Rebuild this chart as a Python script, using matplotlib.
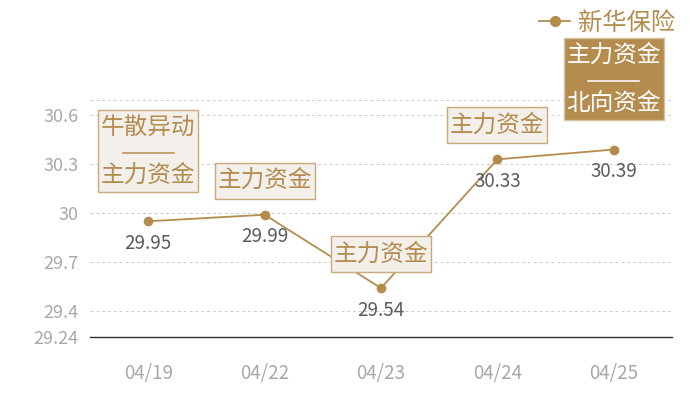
import matplotlib
matplotlib.use("Agg")
import matplotlib.pyplot as plt
import matplotlib.transforms as mtransforms
from matplotlib.lines import Line2D
from matplotlib.patches import Rectangle

plt.rcParams["font.family"] = ["Noto Sans CJK SC", "DejaVu Sans"]

# data
dates = ["04/19", "04/22", "04/23", "04/24", "04/25"]
prices = [29.95, 29.99, 29.54, 30.33, 30.39]
tags = [["牛散异动", "主力资金"], ["主力资金"], ["主力资金"], ["主力资金"], ["主力资金", "北向资金"]]
tag_dark = [False, False, False, False, True]
y_ticks = [29.24, 29.4, 29.7, 30, 30.3, 30.6]
y_tick_labels = ["29.24", "29.4", "29.7", "30", "30.3", "30.6"]
series_name = "新华保险"

gold = "#b48c4e"
y_min, y_max = 29.24, 30.694

fig = plt.figure(figsize=(7, 4), dpi=100)
ax = fig.add_axes([90 / 700, 63 / 400, 582 / 700, 237 / 400])

x = list(range(len(dates)))
ax.plot(x, prices, color=gold, lw=1.3, marker="o", ms=6, mec=gold, mfc=gold, zorder=3)

# grid lines
for v in y_ticks[1:] + [y_max]:
    ax.axhline(v, color="#cccccc", lw=0.7, ls=(0, (3, 3)), zorder=1)

ax.set_xlim(-0.5, len(dates) - 0.5)
ax.set_ylim(y_min, y_max)
ax.set_xticks(x)
ax.set_xticklabels(dates, color="#a8a8a8", fontsize=13.5)
ax.set_yticks(y_ticks)
ax.set_yticklabels(y_tick_labels, color="#a8a8a8", fontsize=13)
ax.tick_params(length=0, pad=8)
ax.tick_params(axis="x", pad=19)
for s in ["top", "right", "left"]:
    ax.spines[s].set_visible(False)
ax.spines["bottom"].set_color("#333333")
ax.spines["bottom"].set_linewidth(1)

# value labels under points
for i, v in enumerate(prices):
    ax.annotate("%.2f" % v, (i, v), xytext=(0, -16), textcoords="offset points",
                ha="center", va="center", color="#5b5b5b", fontsize=13.5)

# tag boxes above points (box drawn in point units around the data point)
pt = mtransforms.Affine2D().scale(fig.dpi / 72.0)
for i, (t, dark) in enumerate(zip(tags, tag_dark)):
    two = len(t) > 1
    tr = pt + mtransforms.ScaledTranslation(i, prices[i], ax.transData)
    if dark:
        fc, ec, tc = gold, "#d7c2a2", "white"
    else:
        fc, ec, tc = "#f3efea", "#c9a87c", gold
    w = 72
    h = 59 if two else 26
    c = 50.5 if two else 24.5
    ax.add_patch(Rectangle((-w / 2, c - h / 2), w, h, transform=tr, fc=fc, ec=ec,
                           lw=1, zorder=5, clip_on=False))
    if two:
        lines = [(t[0], c + 17.3), (t[1], c - 17.3)]
        ax.add_line(Line2D([-18.5, 18.5], [c - 1.2, c - 1.2], transform=tr, color=tc,
                           lw=1.1, zorder=6, clip_on=False))
    else:
        lines = [(t[0], c)]
    for s, yy in lines:
        ax.annotate(s, (i, prices[i]), xytext=(0, yy), textcoords="offset points",
                    ha="center", va="center", color=tc, fontsize=17, zorder=6,
                    annotation_clip=False)

# legend
h = Line2D([0], [0], color=gold, lw=1.3, marker="o", ms=7, mfc=gold, mec=gold)
leg = fig.legend([h], [series_name], loc="upper right", bbox_to_anchor=(0.995, 1.03),
                 frameon=False, fontsize=17.5, handlelength=1.3, handletextpad=0.3)
for txt in leg.get_texts():
    txt.set_color(gold)

fig.savefig("out.png", dpi=100)
